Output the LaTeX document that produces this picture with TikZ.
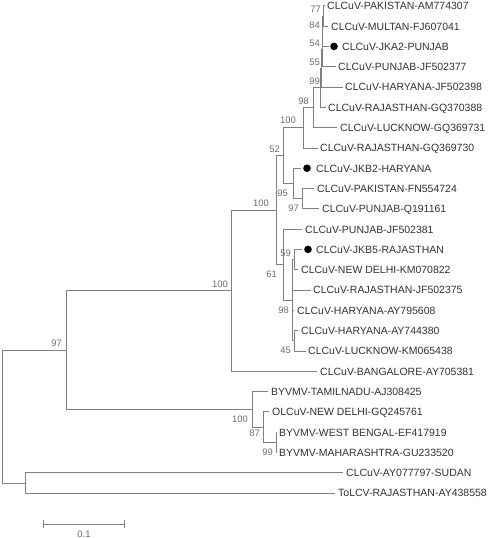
\documentclass[tikz,border=0pt]{standalone}
\usepackage{fontspec}
\setmainfont{Liberation Sans}
\definecolor{branch}{RGB}{128,128,128}
\definecolor{leaftext}{RGB}{50,50,50}
\definecolor{bstext}{RGB}{110,110,110}
\begin{document}
\begin{tikzpicture}[x=1pt,y=-1pt,
  br/.style={draw=branch,line width=0.8pt},
  leaf/.style={anchor=base west,inner sep=0pt,font=\fontsize{10.5}{12}\selectfont,text=leaftext},
  bs/.style={anchor=base east,inner sep=0pt,font=\fontsize{9.4}{11}\selectfont,text=bstext},
  tipdot/.style={circle,fill=black,draw=none,inner sep=0pt,minimum size=7.6pt}]
\useasboundingbox (0,0) rectangle (490,538);
% internal nodes
\coordinate (root) at (2,416.5);
\coordinate (n97) at (66,350);
\coordinate (og) at (25,482.9);
\coordinate (nA) at (231,290.7);
\coordinate (nBY) at (252,409.3);
\coordinate (nB) at (276,210.1);
\coordinate (n52) at (283,155.6);
\coordinate (n61) at (283,264.6);
\coordinate (n100b) at (303,127.8);
\coordinate (n95) at (293,183.4);
\coordinate (n97b) at (302,198.7);
\coordinate (n98) at (313,107.6);
\coordinate (n99) at (320,87.6);
\coordinate (n55) at (321,67.9);
\coordinate (n54) at (322,48.9);
\coordinate (n84) at (322.5,31.2);
\coordinate (n77) at (323,15.95);
\coordinate (n98c) at (292,300.2);
\coordinate (n59) at (294,259.6);
\coordinate (n45) at (294,340.8);
\coordinate (n87) at (263,427);
\coordinate (n99c) at (276,442.3);
% internal branches
\draw[br] (root) |- (n97);
\draw[br] (root) |- (og);
\draw[br] (n97) |- (nA);
\draw[br] (n97) |- (nBY);
\draw[br] (nA) |- (nB);
\draw[br] (nB) |- (n52);
\draw[br] (nB) |- (n61);
\draw[br] (n52) |- (n100b);
\draw[br] (n52) |- (n95);
\draw[br] (n95) |- (n97b);
\draw[br] (n100b) |- (n98);
\draw[br] (n98) |- (n99);
\draw[br] (n99) |- (n55);
\draw[br] (n55) |- (n54);
\draw[br] (n54) |- (n84);
\draw[br] (n84) |- (n77);
\draw[br] (n61) |- (n98c);
\draw[br] (n98c) |- (n59);
\draw[br] (n98c) |- (n45);
\draw[br] (nBY) |- (n87);
\draw[br] (n87) |- (n99c);
% leaves
\coordinate (e1) at (325,5.8);   \draw[br] (n77) |- (e1);  \node[leaf] (t1) at (327,9.7) {CLCuV-PAKISTAN-AM774307};
\coordinate (e2) at (328,26.1);  \draw[br] (n77) |- (e2);  \node[leaf] (t2) at (331,30.0) {CLCuV-MULTAN-FJ607041};
\coordinate (e3) at (329,46.4);  \draw[br] (n84) |- (e3);  \node[tipdot] (d3) at (334,46.4) {}; \node[leaf] (t3) at (342,50.3) {CLCuV-JKA2-PUNJAB};
\coordinate (e4) at (336,66.7);  \draw[br] (n54) |- (e4);  \node[leaf] (t4) at (338,70.6) {CLCuV-PUNJAB-JF502377};
\coordinate (e5) at (343,87.0);  \draw[br] (n55) |- (e5);  \node[leaf] (t5) at (345,90.9) {CLCuV-HARYANA-JF502398};
\coordinate (e6) at (326,107.3); \draw[br] (n99) |- (e6);  \node[leaf] (t6) at (328,111.2) {CLCuV-RAJASTHAN-GQ370388};
\coordinate (e7) at (337,127.6); \draw[br] (n98) |- (e7);  \node[leaf] (t7) at (340,131.5) {CLCuV-LUCKNOW-GQ369731};
\coordinate (e8) at (318,147.9); \draw[br] (n100b) |- (e8); \node[leaf] (t8) at (320,151.8) {CLCuV-RAJASTHAN-GQ369730};
\coordinate (e9) at (301,168.2); \draw[br] (n95) |- (e9);  \node[tipdot] (d9) at (307,168.2) {}; \node[leaf] (t9) at (316,172.1) {CLCuV-JKB2-HARYANA};
\coordinate (e10) at (314,188.5); \draw[br] (n97b) |- (e10); \node[leaf] (t10) at (317,192.4) {CLCuV-PAKISTAN-FN554724};
\coordinate (e11) at (319,208.8); \draw[br] (n97b) |- (e11); \node[leaf] (t11) at (322,212.7) {CLCuV-PUNJAB-Q191161};
\coordinate (e12) at (302,229.1); \draw[br] (n61) |- (e12); \node[leaf] (t12) at (305,233.0) {CLCuV-PUNJAB-JF502381};
\coordinate (e13) at (302,249.4); \draw[br] (n59) |- (e13); \node[tipdot] (d13) at (308,249.4) {}; \node[leaf] (t13) at (316,253.3) {CLCuV-JKB5-RAJASTHAN};
\coordinate (e14) at (298,269.7); \draw[br] (n59) |- (e14); \node[leaf] (t14) at (301,273.6) {CLCuV-NEW DELHI-KM070822};
\coordinate (e15) at (311,290.0); \draw[br] (n98c) |- (e15); \node[leaf] (t15) at (313,293.9) {CLCuV-RAJASTHAN-JF502375};
\coordinate (e16) at (294,310.3); \draw[br] (n98c) |- (e16); \node[leaf] (t16) at (297,314.2) {CLCuV-HARYANA-AY795608};
\coordinate (e17) at (298,330.6); \draw[br] (n45) |- (e17); \node[leaf] (t17) at (301,334.5) {CLCuV-HARYANA-AY744380};
\coordinate (e18) at (306,350.9); \draw[br] (n45) |- (e18); \node[leaf] (t18) at (308,354.8) {CLCuV-LUCKNOW-KM065438};
\coordinate (e19) at (317,371.2); \draw[br] (nA) |- (e19); \node[leaf] (t19) at (320,375.1) {CLCuV-BANGALORE-AY705381};
\coordinate (e20) at (268,391.5); \draw[br] (nBY) |- (e20); \node[leaf] (t20) at (271,395.4) {BYVMV-TAMILNADU-AJ308425};
\coordinate (e21) at (269,411.8); \draw[br] (n87) |- (e21); \node[leaf] (t21) at (272,415.7) {OLCuV-NEW DELHI-GQ245761};
\coordinate (e22) at (277,432.1); \draw[br] (n99c) |- (e22); \node[leaf] (t22) at (279,436.0) {BYVMV-WEST BENGAL-EF417919};
\coordinate (e23) at (277,452.4); \draw[br] (n99c) |- (e23); \node[leaf] (t23) at (279,456.3) {BYVMV-MAHARASHTRA-GU233520};
\coordinate (e24) at (343,472.7); \draw[br] (og) |- (e24); \node[leaf] (t24) at (346,476.6) {CLCuV-AY077797-SUDAN};
\coordinate (e25) at (335,493.0); \draw[br] (og) |- (e25); \node[leaf] (t25) at (338,496.9) {ToLCV-RAJASTHAN-AY438558};
% bootstrap values
\node[bs] (b77) at (321,12.9) {77};
\node[bs] (b84) at (320,28.4) {84};
\node[bs] (b54) at (320,46.4) {54};
\node[bs] (b55) at (320,65.4) {55};
\node[bs] (b99) at (320,84.9) {99};
\node[bs] (b98) at (309,104.4) {98};
\node[bs] (b100b) at (296,123.4) {100};
\node[bs] (b52) at (280,152.4) {52};
\node[bs] (b100B) at (269,206.9) {100};
\node[bs] (b95) at (288,196.4) {95};
\node[bs] (b97b) at (299,211.4) {97};
\node[bs] (b61) at (277,277.9) {61};
\node[bs] (b59) at (291,256.4) {59};
\node[bs] (b98c) at (289,313.9) {98};
\node[bs] (b45) at (291,353.4) {45};
\node[bs] (b100A) at (228,287.4) {100};
\node[bs] (b97) at (62,346.9) {97};
\node[bs] (b100BY) at (248,422.4) {100};
\node[bs] (b87) at (260,436.4) {87};
\node[bs] (b99c) at (273,455.4) {99};
% scale bar
\coordinate (sL) at (43,524);
\coordinate (sR) at (124,524);
\draw[br] (sL) -- (sR);
\draw[br] ([yshift=-4pt]sL) -- ([yshift=4pt]sL);
\draw[br] ([yshift=-4pt]sR) -- ([yshift=4pt]sR);
\node[bs,anchor=base] (scl) at (84,537) {0.1};
\end{tikzpicture}
\end{document}
